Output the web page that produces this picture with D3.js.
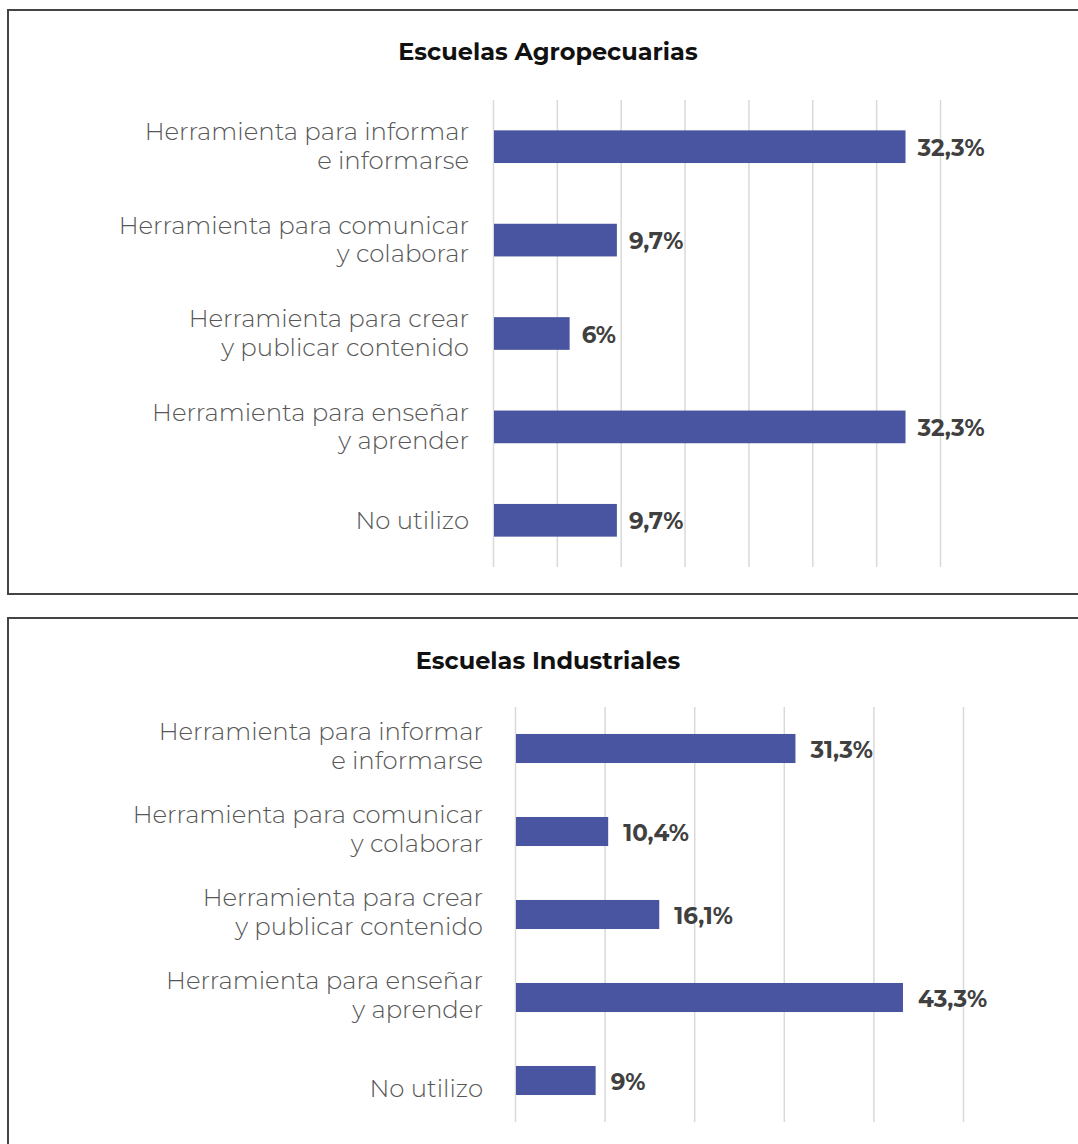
<!DOCTYPE html>
<html>
<head>
<meta charset="utf-8">
<script src="https://cdn.jsdelivr.net/npm/d3@7"></script>
<style>
  html, body { margin: 0; padding: 0; background: #fff; }
  svg { display: block; }
</style>
</head>
<body>
<svg id="chart" width="1078" height="1144"></svg>
<script>
// Uso de las TIC según tipo de escuela
const categories = [
  "Herramienta para informar\ne informarse",
  "Herramienta para comunicar\ny colaborar",
  "Herramienta para crear\ny publicar contenido",
  "Herramienta para enseñar\ny aprender",
  "No utilizo"
];
const agroTitle = "Escuelas Agropecuarias";
const agroValues = [32.3, 9.7, 6, 32.3, 9.7];
const agroTicks = [0, 5, 10, 15, 20, 25, 30, 35];

const indusTitle = "Escuelas Industriales";
const indusValues = [31.3, 10.4, 16.1, 43.3, 9];
const indusTicks = [0, 10, 20, 30, 40, 50];

const svg = d3.select("#chart");
const FONT = "Montserrat, 'DejaVu Sans', sans-serif";
const BAR = "#4a55a2";

const fmt = v => String(v).replace(".", ",") + "%";

function panel(opts) {
  const g = svg.append("g");

  // frame
  g.append("rect")
    .attr("x", opts.frame[0]).attr("y", opts.frame[1])
    .attr("width", opts.frame[2]).attr("height", opts.frame[3])
    .attr("fill", "#fff").attr("stroke", "#444").attr("stroke-width", 2);

  // title
  g.append("text")
    .attr("x", 548).attr("y", opts.titleY)
    .attr("text-anchor", "middle").attr("dominant-baseline", "central")
    .attr("font-family", FONT).attr("font-weight", 700).attr("font-size", 24)
    .attr("fill", "#111")
    .text(opts.title);

  const x = d3.scaleLinear()
    .domain([0, d3.max(opts.ticks)])
    .range(opts.xRange);

  const y = d3.scaleBand()
    .domain(categories)
    .range(opts.yRange)
    .paddingInner(0.65)
    .paddingOuter(0.325);

  // vertical gridlines via a bottom axis with full-height ticks
  const grid = g.append("g")
    .attr("transform", `translate(0,${opts.yRange[1]})`)
    .call(d3.axisBottom(x)
      .tickValues(opts.ticks)
      .tickSize(-(opts.yRange[1] - opts.yRange[0]))
      .tickFormat(""));
  grid.select(".domain").remove();
  grid.selectAll(".tick line")
    .attr("stroke", "#d9d9d9").attr("stroke-width", 1.5);

  // bars
  g.append("g").selectAll("rect")
    .data(opts.values)
    .join("rect")
    .attr("x", x(0) + 1)
    .attr("y", (d, i) => y(categories[i]))
    .attr("width", d => x(d) - x(0) - 1)
    .attr("height", y.bandwidth())
    .attr("fill", BAR);

  // value labels
  g.append("g").selectAll("text")
    .data(opts.values)
    .join("text")
    .attr("x", d => x(d) + opts.valueGap)
    .attr("y", (d, i) => y(categories[i]) + y.bandwidth() / 2 + 1)
    .attr("dominant-baseline", "central")
    .attr("font-family", FONT).attr("font-weight", 700).attr("font-size", 23)
    .attr("fill", "#404040")
    .text(fmt);

  // category labels (multi-line, right-aligned)
  const lineH = 28.5;
  const labels = g.append("g").selectAll("text")
    .data(categories)
    .join("text")
    .attr("text-anchor", "end")
    .attr("font-family", FONT).attr("font-weight", 300).attr("font-size", 24.4)
    .attr("fill", "#575757");
  labels.each(function (d) {
    const lines = d.split("\n");
    const shift = lines.length > 1 ? opts.labelShift : opts.singleShift;
    const cy = y(d) + y.bandwidth() / 2 + shift;
    const t = d3.select(this);
    lines.forEach((ln, k) => {
      t.append("tspan")
        .attr("x", x(0) - opts.labelGap)
        .attr("y", cy + (k - (lines.length - 1) / 2) * lineH)
        .attr("dominant-baseline", "central")
        .text(ln);
    });
  });
}

panel({
  frame: [8, 10, 1090, 584],
  title: agroTitle,
  titleY: 51,
  values: agroValues,
  ticks: agroTicks,
  xRange: [493, 940],
  yRange: [100, 567],
  valueGap: 12,
  labelGap: 24,
  labelShift: -1,
  singleShift: -0.5
});

panel({
  frame: [8, 618, 1090, 600],
  title: indusTitle,
  titleY: 660,
  values: indusValues,
  ticks: indusTicks,
  xRange: [515, 963],
  yRange: [707, 1122],
  valueGap: 15,
  labelGap: 32,
  labelShift: -3,
  singleShift: 7
});
</script>
</body>
</html>
